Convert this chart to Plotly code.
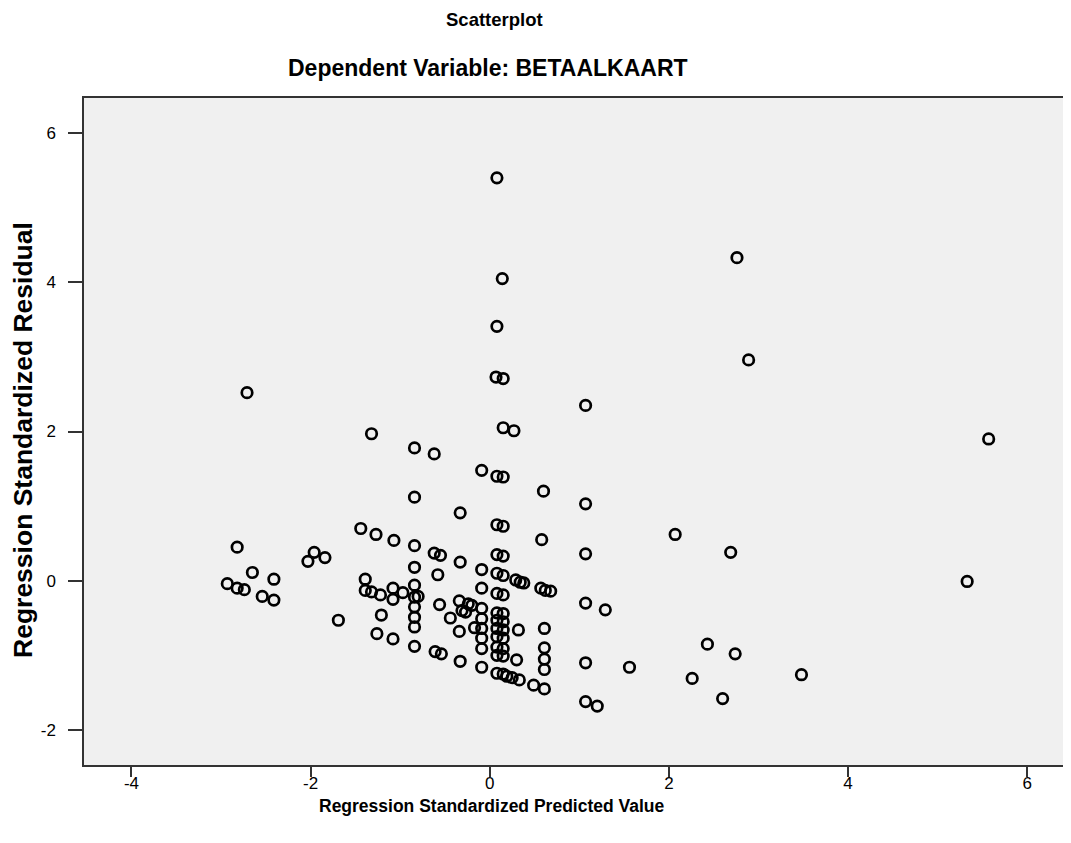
import plotly.graph_objects as go

# Regression Standardized Predicted Value
pred = [
    0.08, 0.14, 2.76, 0.08, 0.07, 0.15, 2.89, -2.71, 1.07, 0.15,
    0.27, -1.32, 5.57, -0.84, -0.62, -0.09, 0.08, 0.15, 0.60, -0.84,
    1.07, -0.33, 0.08, 0.15, -1.44, -1.27, 2.07, 0.58, -1.07, -0.84,
    -2.82, -1.96, 2.69, -0.62, -0.55, 1.07, 0.08, 0.15, -1.84, -2.03,
    -0.33, -0.84, -0.09, -2.65, 0.08, 0.15, -0.58, -2.41, -1.39, 0.29,
    0.34, 0.38, 5.33, -2.93, -0.84, -2.82, -2.74, -1.08, -0.09, -1.39,
    -1.32, 0.57, 0.62, 0.68, -0.97, 0.08, 0.15, -1.22, -2.54, -0.84,
    -0.80, -1.08, -2.41, -0.34, 1.07, -0.24, -0.20, -0.56, -0.84, -0.09,
    1.29, -0.31, -0.27, 0.08, 0.15, -1.21, -0.84, -0.44, -0.09, 0.08,
    0.15, -1.69, -0.84, -0.17, -0.09, 0.08, 0.15, 0.61, 0.32, -0.34,
    -1.26, 0.08, 0.15, -0.09, -1.08, 2.43, -0.84, 0.08, 0.15, -0.09,
    0.61, -0.61, -0.54, 2.74, 0.08, 0.15, 0.61, 0.30, -0.33, 1.07,
    -0.09, 1.56, 0.61, 0.08, 0.15, 0.19, 0.25, 0.33, 3.48, 2.26,
    0.49, 0.61, 2.60, 1.07, 1.20,
]

# Regression Standardized Residual
resid = [
    5.40, 4.05, 4.33, 3.41, 2.73, 2.71, 2.96, 2.52, 2.35, 2.05,
    2.01, 1.97, 1.90, 1.78, 1.70, 1.48, 1.40, 1.39, 1.20, 1.12,
    1.03, 0.91, 0.75, 0.73, 0.70, 0.62, 0.62, 0.55, 0.54, 0.47,
    0.45, 0.38, 0.38, 0.37, 0.34, 0.36, 0.35, 0.33, 0.31, 0.26,
    0.25, 0.18, 0.15, 0.11, 0.10, 0.07, 0.08, 0.02, 0.02, 0.01,
    -0.02, -0.03, -0.01, -0.04, -0.06, -0.10, -0.12, -0.10, -0.10, -0.13,
    -0.15, -0.10, -0.13, -0.14, -0.16, -0.17, -0.19, -0.19, -0.21, -0.22,
    -0.21, -0.25, -0.26, -0.27, -0.30, -0.31, -0.33, -0.32, -0.35, -0.37,
    -0.39, -0.40, -0.42, -0.43, -0.44, -0.46, -0.49, -0.50, -0.51, -0.53,
    -0.55, -0.53, -0.62, -0.63, -0.64, -0.64, -0.66, -0.64, -0.66, -0.68,
    -0.71, -0.75, -0.77, -0.77, -0.78, -0.85, -0.88, -0.89, -0.91, -0.91,
    -0.90, -0.95, -0.98, -0.98, -1.00, -1.01, -1.05, -1.06, -1.08, -1.10,
    -1.16, -1.16, -1.19, -1.24, -1.25, -1.28, -1.30, -1.33, -1.26, -1.31,
    -1.40, -1.45, -1.58, -1.62, -1.68,
]

x_ticks = [-4, -2, 0, 2, 4, 6]
y_ticks = [-2, 0, 2, 4, 6]

title_text = "Scatterplot"
subtitle_text = "Dependent Variable: BETAALKAART"
x_title = "Regression Standardized Predicted Value"
y_title = "Regression Standardized Residual"

# The page body has an 8px margin, so the figure is drawn 8px in from the
# window's top-left corner; size and place everything accordingly.
OFF = 8
W, H = 1071 - OFF, 843 - OFF
L, R, T, B = 84 - OFF, 8, 98 - OFF, 843 - 765
pw, ph = W - L - R, H - T - B


def px(xp):
    # window pixel -> paper x
    return (xp - OFF - L) / pw


def py(yp):
    # window pixel -> paper y
    return (H - B - (yp - OFF)) / ph


fig = go.Figure()
fig.add_trace(go.Scatter(
    x=pred, y=resid, mode="markers",
    marker=dict(symbol="circle-open", size=10.5, color="black",
                line=dict(width=2.7, color="black")),
    showlegend=False, hoverinfo="x+y",
))

fnt = "Liberation Sans, Arial, sans-serif"
fig.update_layout(
    width=W, height=H,
    margin=dict(l=L, r=R, t=T, b=B),
    paper_bgcolor="white",
    plot_bgcolor="#F0F0F0",
    font=dict(family=fnt, color="black"),
    annotations=[
        dict(text="<b>" + title_text + "</b>", x=px(494), y=py(20),
             xref="paper", yref="paper", xanchor="center", yanchor="middle",
             showarrow=False, font=dict(size=18.5, family=fnt)),
        dict(text="<b>" + subtitle_text + "</b>", x=px(488), y=py(68),
             xref="paper", yref="paper", xanchor="center", yanchor="middle",
             showarrow=False, font=dict(size=23, family=fnt)),
        dict(text="<b>" + x_title + "</b>", x=px(492), y=py(806),
             xref="paper", yref="paper", xanchor="center", yanchor="middle",
             showarrow=False, font=dict(size=17.5, family=fnt)),
        dict(text="<b>" + y_title + "</b>", x=px(23), y=py(440),
             xref="paper", yref="paper", xanchor="center", yanchor="middle",
             textangle=-90, showarrow=False, font=dict(size=26.5, family=fnt)),
    ],
)

fig.update_xaxes(
    range=[-4.53, 6.40], tickvals=x_ticks, ticktext=[str(v) for v in x_ticks],
    showgrid=False, zeroline=False, showline=True, linecolor="#333333",
    linewidth=1.5, mirror=True, ticks="outside", ticklen=10, tickwidth=1.5,
    tickcolor="#333333", automargin=False, ticklabelstandoff=-8,
    tickfont=dict(size=17, family=fnt),
)
fig.update_yaxes(
    range=[-2.47, 6.47], tickvals=y_ticks, ticktext=[str(v) for v in y_ticks],
    showgrid=False, zeroline=False, showline=True, linecolor="#333333",
    linewidth=1.5, mirror=True, ticks="outside", ticklen=14, tickwidth=1.5,
    tickcolor="#333333", automargin=False, ticklabelstandoff=9,
    tickfont=dict(size=17, family=fnt),
)

fig.write_html("out.html")
